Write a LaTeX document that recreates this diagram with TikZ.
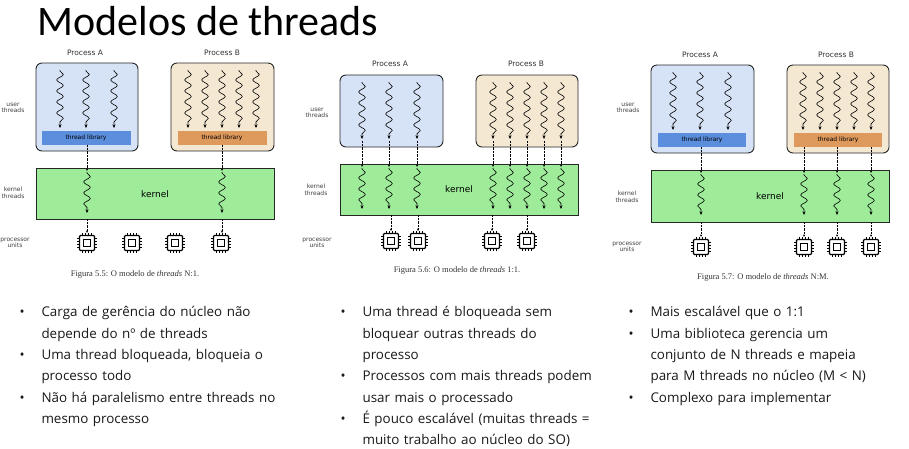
\documentclass[tikz,border=0pt]{standalone}
\usepackage{fontspec}
\setmainfont{Open Sans}
\newfontfamily\titlef{Carlito}
\newfontfamily\labf{DejaVu Sans}
\newfontfamily\capf{Liberation Serif}
\usetikzlibrary{decorations.pathmorphing,arrows.meta}
\definecolor{pa}{HTML}{D6E3F6}
\definecolor{pab}{HTML}{5B8EDC}
\definecolor{pb}{HTML}{F5E8D2}
\definecolor{pbb}{HTML}{DE995C}
\definecolor{kg}{HTML}{9EEC9A}
\tikzset{
 procbox/.style={draw=black!85,line width=0.9pt,rounded corners=6pt},
 kbox/.style={draw=black!85,line width=0.9pt,fill=kg},
 thr/.style={line width=0.6pt,-{Stealth[length=3.5pt,width=3pt]},decorate,decoration={snake,amplitude=3.3pt,segment length=11pt,pre length=1pt,post length=4pt}},
 dots/.style={densely dotted,line width=0.4pt,-{Stealth[length=2.5pt,width=2pt]}},
 lab/.style={font=\labf\fontsize{6}{6.5}\selectfont,align=center,text=black!75,inner sep=1pt},
 plab/.style={font=\labf\fontsize{7.5}{8}\selectfont,text=black!80},
 captxt/.style={font=\capf\fontsize{8.5}{9}\selectfont,text=black!80},
 btxt/.style={font=\fontsize{13.4}{21.3}\selectfont,align=left,anchor=north west,text width=290pt,text=black!90},
}
\newcommand{\thread}[3]{\draw[thr] (#1,#2) -- (#1,#3);}
\newcommand{\chip}[2]{%
 \begin{scope}[shift={(#1,#2)}]
  \foreach \t in {-4.5,-1.5,1.5,4.5}{
   \draw[line width=0.6pt] (\t,-10) -- (\t,10);
   \draw[line width=0.6pt] (-10,\t) -- (10,\t);}
  \draw[fill=white,line width=1.3pt,rounded corners=1pt] (-7.5,-7.5) rectangle (7.5,7.5);
  \draw[line width=1.1pt] (-3.5,-3.5) rectangle (3.5,3.5);
 \end{scope}}
\begin{document}
\begin{tikzpicture}[x=1pt,y=-1pt]
\useasboundingbox (0,0) rectangle (909,448);
\fill[white] (0,0) rectangle (909,448);
\node[font=\titlef\fontsize{42}{42}\selectfont,anchor=west] (title) at (34,21) {Modelos de threads};
% ---------------- diagram 1 (N:1)
\node[plab] (p1a) at (85,53) {Process A};
\node[plab] (p1b) at (222,53) {Process B};
\draw[procbox,fill=pa] (36,63) rectangle (138,151);
\draw[procbox,fill=pb] (171,63) rectangle (274,151);
\fill[pab] (42,131) rectangle (131,145);
\fill[pbb] (178,131) rectangle (267,145);
\node[font=\labf\fontsize{6}{6}\selectfont] at (86,138) {thread library};
\node[font=\labf\fontsize{6}{6}\selectfont] at (222,138) {thread library};
\foreach \x in {60,86,114}{\thread{\x}{70}{128}}
\foreach \x in {188,205,222,239,256}{\thread{\x}{70}{128}}
\draw[kbox] (36,168) rectangle (274,219);
\node[font=\labf\fontsize{9}{9}\selectfont] at (155,194) {kernel};
\foreach \x in {87,222}{\thread{\x}{172}{213}
 \draw[dots] (\x,145) -- (\x,171);
 \draw[dots] (\x,219) -- (\x,233);}
\foreach \x in {87,132,175,221}{\chip{\x}{243}}
\node[lab] at (13,108) {user\\threads};
\node[lab] at (13,193) {kernel\\threads};
\node[lab] at (15,243) {processor\\units};
\node[captxt] at (135,274) {Figura 5.5: O modelo de \textit{threads} N:1.};
% ---------------- diagram 2 (1:1)
\node[plab] at (390,64) {Process A};
\node[plab] at (526,64) {Process B};
\draw[procbox,fill=pa] (340,75) rectangle (443,147);
\draw[procbox,fill=pb] (476,75) rectangle (578,147);
\draw[kbox] (340,164) rectangle (578,215);
\node[font=\labf\fontsize{9}{9}\selectfont] at (459,189) {kernel};
\foreach \x in {362,389,417,493,510,527,544,561}{
 \thread{\x}{82}{139}
 \thread{\x}{168}{209}
 \draw[dots] (\x,141) -- (\x,167);}
\foreach \x in {391,418,492,527}{\draw[dots] (\x,215) -- (\x,231);\chip{\x}{241}}
\node[lab] at (317,113) {user\\threads};
\node[lab] at (316,190) {kernel\\threads};
\node[lab] at (317,243) {processor\\units};
\node[captxt] at (457,270) {Figura 5.6: O modelo de \textit{threads} 1:1.};
% ---------------- diagram 3 (N:M)
\node[plab] at (700,55) {Process A};
\node[plab] at (836,55) {Process B};
\draw[procbox,fill=pa] (651,65) rectangle (754,153);
\draw[procbox,fill=pb] (787,65) rectangle (889,153);
\fill[pab] (658,133) rectangle (746,147);
\fill[pbb] (794,133) rectangle (882,147);
\node[font=\labf\fontsize{6}{6}\selectfont] at (702,140) {thread library};
\node[font=\labf\fontsize{6}{6}\selectfont] at (838,140) {thread library};
\foreach \x in {673,700,728}{\thread{\x}{72}{130}}
\foreach \x in {803,820,837,854,871}{\thread{\x}{72}{130}}
\draw[kbox] (651,170) rectangle (889,222);
\node[font=\labf\fontsize{9}{9}\selectfont] at (770,196) {kernel};
\foreach \x in {701,804,837,871}{\thread{\x}{174}{215}
 \draw[dots] (\x,147) -- (\x,173);
 \draw[dots] (\x,222) -- (\x,237);
 \chip{\x}{247}}
\node[lab] at (628,108) {user\\threads};
\node[lab] at (627,197) {kernel\\threads};
\node[lab] at (627,247) {processor\\units};
\node[captxt] at (763,277) {Figura 5.7: O modelo de \textit{threads} N:M.};
% ---------------- bullets
\node[btxt] (b1) at (16,303) {%
\makebox[22pt][l]{•}Carga de gerência do núcleo não\\
\hspace*{22pt}depende do nº de threads\\
\makebox[22pt][l]{•}Uma thread bloqueada, bloqueia o\\
\hspace*{22pt}processo todo\\
\makebox[22pt][l]{•}Não há paralelismo entre threads no\\
\hspace*{22pt}mesmo processo};
\node[btxt] (b2) at (337,303) {%
\makebox[22pt][l]{•}Uma thread é bloqueada sem\\
\hspace*{22pt}bloquear outras threads do\\
\hspace*{22pt}processo\\
\makebox[22pt][l]{•}Processos com mais threads podem\\
\hspace*{22pt}usar mais o processado\\
\makebox[22pt][l]{•}É pouco escalável (muitas threads =\\
\hspace*{22pt}muito trabalho ao núcleo do SO)};
\node[btxt] (b3) at (625,303) {%
\makebox[22pt][l]{•}Mais escalável que o 1:1\\
\makebox[22pt][l]{•}Uma biblioteca gerencia um\\
\hspace*{22pt}conjunto de N threads e mapeia\\
\hspace*{22pt}para M threads no núcleo (M < N)\\
\makebox[22pt][l]{•}Complexo para implementar};
\end{tikzpicture}
\end{document}
